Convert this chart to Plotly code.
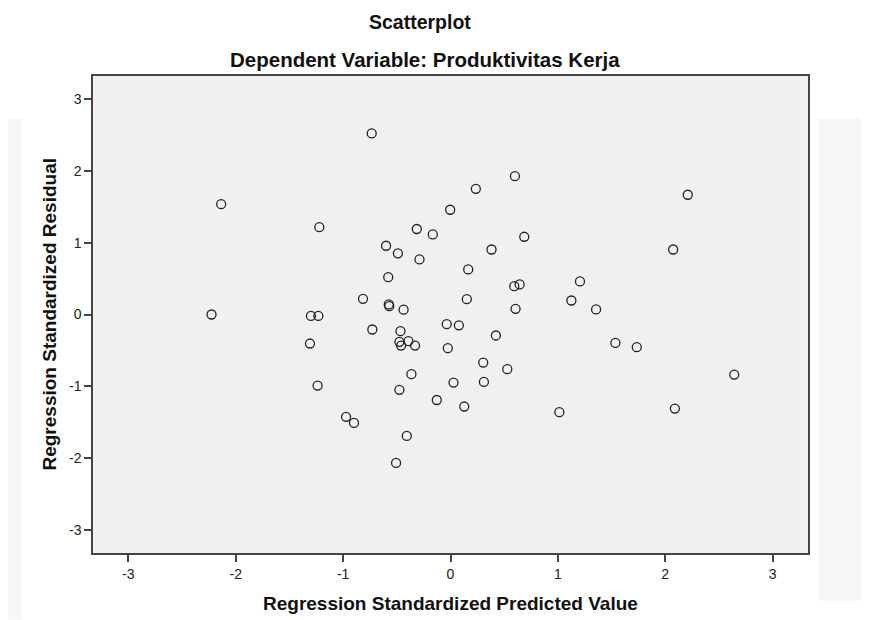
import plotly.graph_objects as go

# Regression Standardized Predicted Value (x) and Regression Standardized Residual (y)
predicted = [-0.734, -2.136, -1.222, -0.60, -0.49, -0.58, -0.815, -0.575, -0.57, -2.226,
             -1.30, -1.231, 0.60, 0.236, -0.003, -0.314, -0.165, 2.21, 0.687, -0.289,
             0.382, 2.074, 0.165, 0.594, 0.644, 1.206, 0.152, 1.126, 0.606, 1.356,
             -0.437, -0.035, 0.078, -0.728, -0.466, -1.309, -0.476, -0.46, -0.392, -0.33,
             -0.025, -1.238, -0.364, -0.476, -0.128, -0.973, -0.899, -0.407, -0.507, 0.423,
             1.536, 1.735, 0.305, 0.529, 0.311, 0.028, 2.643, 0.128, 1.014, 2.09]
residual = [2.52, 1.536, 1.216, 0.957, 0.852, 0.52, 0.218, 0.14, 0.116, 0.0,
            -0.02, -0.02, 1.926, 1.75, 1.458, 1.19, 1.114, 1.667, 1.082, 0.766,
            0.905, 0.905, 0.627, 0.394, 0.418, 0.46, 0.213, 0.195, 0.079, 0.07,
            0.067, -0.135, -0.151, -0.209, -0.232, -0.404, -0.38, -0.432, -0.372, -0.432,
            -0.469, -0.989, -0.831, -1.049, -1.19, -1.425, -1.509, -1.69, -2.066, -0.292,
            -0.395, -0.455, -0.669, -0.761, -0.938, -0.947, -0.836, -1.281, -1.36, -1.309]

tick_vals = [-3, -2, -1, 0, 1, 2, 3]
tick_text = ["-3", "-2", "-1", "0", "1", "2", "3"]

title_text = "Scatterplot"
subtitle_text = "Dependent Variable: Produktivitas Kerja"
x_title = "Regression Standardized Predicted Value"
y_title = "Regression Standardized Residual"

FONT = "Liberation Sans, Arial, Helvetica, sans-serif"

fig = go.Figure()
fig.add_trace(go.Scatter(
    x=predicted, y=residual, mode="markers",
    marker=dict(symbol="circle-open", size=9, color="#222222", line=dict(width=1.3, color="#222222")),
    hoverinfo="x+y", showlegend=False,
))

axis_common = dict(
    tickmode="array", tickvals=tick_vals, ticktext=tick_text,
    showgrid=False, zeroline=False,
    showline=True, linecolor="#444444", linewidth=1.5, mirror=True,
    ticks="outside", ticklen=7, tickwidth=1.5, tickcolor="#444444",
    tickfont=dict(family=FONT, size=14, color="#222222"),
)

fig.update_layout(
    width=861, height=612,
    margin=dict(l=85, r=61, t=68, b=67),
    paper_bgcolor="white", plot_bgcolor="#f0f0f0",
    font=dict(family=FONT, color="#111111"),
    xaxis=dict(range=[-3.33, 3.33], **axis_common),
    yaxis=dict(range=[-3.32, 3.32], **axis_common),
    shapes=[
        dict(type="rect", xref="paper", yref="paper", x0=-0.123, x1=-0.099, y0=-0.14, y1=0.912,
             fillcolor="#f7f7f7", line=dict(width=0), layer="below"),
        dict(type="rect", xref="paper", yref="paper", x0=1.014, x1=1.09, y0=-0.10, y1=0.912,
             fillcolor="#f7f7f7", line=dict(width=0), layer="below"),
    ],
    annotations=[
        dict(text=f"<b>{title_text}</b>", xref="paper", yref="paper", x=0.457, y=1.114,
             xanchor="center", yanchor="middle", showarrow=False,
             font=dict(family=FONT, size=19.5, color="#111111")),
        dict(text=f"<b>{subtitle_text}</b>", xref="paper", yref="paper", x=0.464, y=1.034,
             xanchor="center", yanchor="middle", showarrow=False,
             font=dict(family=FONT, size=20.5, color="#111111")),
        dict(text=f"<b>{x_title}</b>", xref="paper", yref="paper", x=0.5, y=-0.105,
             xanchor="center", yanchor="middle", showarrow=False,
             font=dict(family=FONT, size=19, color="#111111")),
        dict(text=f"<b>{y_title}</b>", xref="paper", yref="paper", x=-0.0615, y=0.5,
             xanchor="center", yanchor="middle", showarrow=False, textangle=-90,
             font=dict(family=FONT, size=19, color="#111111")),
    ],
)

fig.write_html("out.html")
